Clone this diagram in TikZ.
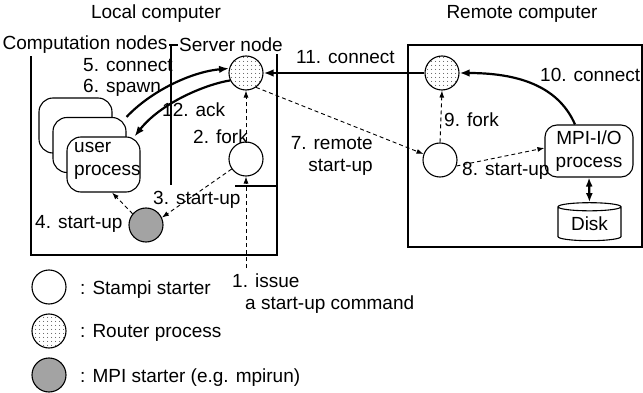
\documentclass[tikz,border=0pt]{standalone}
\usepackage{fontspec}
\setmainfont{Liberation Sans}
\usetikzlibrary{arrows.meta,patterns.meta,shapes.geometric}

\begin{document}
\begin{tikzpicture}[x=1pt,y=-1pt,
  every node/.style={font=\fontsize{19}{22.5}\selectfont, inner sep=0pt},
  lbl/.style={anchor=west},
  frame/.style={draw, line width=1.2pt},
  proc/.style={circle, draw, line width=1.1pt, minimum size=34pt},
  starter/.style={proc},
  router/.style={proc, pattern={Dots[distance=4pt,radius=0.55pt]}},
  mpistarter/.style={proc, fill=black!30,
                     postaction={pattern={Dots[distance=2pt,radius=0.45pt]}}},
  userbox/.style={draw, rounded corners=14pt, line width=1.1pt, fill=white,
                  minimum width=73pt, minimum height=55pt},
  iobox/.style={draw, rounded corners=12pt, line width=1.1pt, align=center,
                minimum width=88pt, minimum height=52pt},
  thickarrow/.style={line width=2.2pt, -{Latex[length=10pt,width=7.5pt]}},
  dasharrow/.style={dash pattern=on 4pt off 3pt, line width=0.9pt,
                    -{Latex[length=7pt,width=5pt]}},
  title/.style={fill=white, inner xsep=1.5pt, inner ysep=2pt},
]
\useasboundingbox (0,0) rectangle (643,393);

% headings
\node (tlocal) at (156,14) {Local computer};
\node (tremote) at (522,14) {Remote computer};

% local computer frame, split into computation and server parts
\draw[frame] (31,45) rectangle (277,255);
\draw[frame] (171,45) -- (171,185);
\draw[frame] (235,186) -- (277,186);
\node[title] (tcomp) at (85,45) {Computation nodes};
\node[title] (tserv) at (231,45) {Server node};

% remote computer frame
\draw[frame] (408,45) rectangle (642,247);

% user processes (stacked)
\node[userbox] (ub3) at (75.5,125.5) {};
\node[userbox] (ub2) at (89.5,145) {};
\node[userbox] (ub1) at (103.5,164.5) {};
\node[anchor=west, align=left] (utext) at (74,161) {user\\process};

% local processes
\node[router] (lr) at (246,73) {};
\node[starter] (ls) at (246,159) {};
\node[mpistarter] (mpi) at (146,225) {};
\coordinate (cmd) at (246,268);

% remote processes
\node[router] (rr) at (442,73) {};
\node[starter] (rs) at (440,160) {};
\node[iobox] (io) at (589,151) {MPI-I/O\\process};
\node[cylinder, shape border rotate=90, draw, line width=1.1pt, aspect=0.22,
      minimum width=63pt, minimum height=38pt] (disk) at (589.5,224)
      {\raisebox{-7pt}{Disk}};

% solid connections
\draw[thickarrow] (ub2.north east) .. controls (150,92) and (190,72) .. (lr.165);
\draw[thickarrow] (lr.205) .. controls (203,85) and (160,104) .. ([xshift=-6pt]ub1.north east);
\draw[thickarrow] (rr.west) -- (lr.east);
\draw[thickarrow] ([xshift=-14pt]io.north) .. controls (560,90) and (525,73) .. (rr.east);
\draw[line width=2.2pt, {Latex[length=9pt,width=7pt]}-{Latex[length=9pt,width=7pt]}]
  (io.south) -- (disk.north);

% start-up sequence
\draw[dasharrow] (cmd) -- (ls.south);
\draw[dasharrow] (ls.north) -- (lr.south);
\draw[dasharrow] (ls.215) -- (mpi.25);
\draw[dasharrow] (mpi.140) -- ([xshift=8.5pt]ub1.south);
\draw[dasharrow] (lr.-55) -- (rs.160);
\draw[dasharrow] (rs.-20) -- ([yshift=3pt]io.west);
\draw[dasharrow] (rs.north) -- (rr.south);

% step labels
\node[lbl] (l5) at (83,65) {5. connect};
\node[lbl] (l6) at (83,88) {6. spawn};
\node[lbl] (l12) at (162,110) {12. ack};
\node[lbl] (l2) at (193,137) {2. fork};
\node[lbl] (l3) at (153,200) {3. start-up};
\node[lbl] (l4) at (35,224) {4. start-up};
\node[lbl] (l11) at (296,57) {11. connect};
\node[anchor=east, align=right] (l7) at (373,156) {7. remote\\start-up};
\node[lbl] (l9) at (444,120) {9. fork};
\node[lbl] (l8) at (462,171) {8. start-up};
\node[lbl] (l10) at (540,75) {10. connect};
\node[lbl, align=left] (l1) at (232,293.5) {1. issue\\\hspace*{13pt}a start-up command};

% legend
\node[starter] (k1) at (49,287) {};
\node[router] (k2) at (49,331) {};
\node[mpistarter] (k3) at (49,375) {};
\node[lbl] (k1t) at (80,290) {: Stampi starter};
\node[lbl] (k2t) at (80,333) {: Router process};
\node[lbl] (k3t) at (80,378) {: MPI starter (e.g. mpirun)};
\end{tikzpicture}
\end{document}
